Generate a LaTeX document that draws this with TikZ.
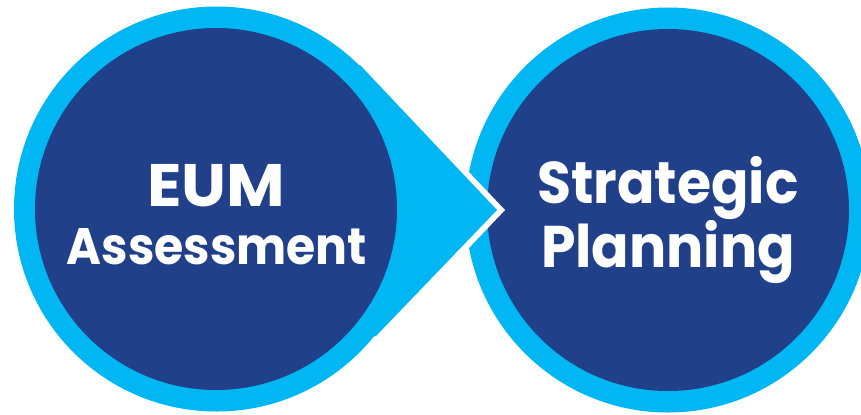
\documentclass[tikz,border=0pt]{standalone}
\usepackage{fontspec}
\setmainfont{Poppins}
\definecolor{ringblue}{HTML}{00B7F3}
\definecolor{coreblue}{HTML}{21408A}
\tikzset{
  ring/.style={circle,fill=ringblue,minimum size=405bp,inner sep=0pt},
  core/.style={circle,fill=coreblue,minimum size=362bp,inner sep=0pt},
  label/.style={text=white,anchor=base,inner sep=0pt,transform shape},
}
\begin{document}
\begin{tikzpicture}[x=1bp,y=-1bp]
\useasboundingbox (0,0) rectangle (861,414);
\fill[white] (0,0) rectangle (861,414);
\node[ring] (ringR) at (668,210) {};
\node[core] (coreR) at (668,210) {};
\coordinate (gapTip) at (505,210);
\coordinate (tip) at (497,210);
\fill[white] (355,52) -- (gapTip) -- (355,368) -- cycle;
\node[ring] (ringL) at (216.5,209) {};
\fill[ringblue] (350,70) -- (360,65) -- (tip) -- (376,336) -- (350,340) -- cycle;
\node[core] (coreL) at (216,209) {};
\node[label,font=\fontsize{64}{64}\selectfont\bfseries,yscale=.94] (t1) at (216,206) {EUM};
\node[label,font=\fontsize{49}{49}\selectfont\bfseries,xscale=.97,yscale=1.05] (t2) at (217,264) {Assessment};
\node[label,font=\fontsize{59}{59}\selectfont\bfseries,xscale=.94] (t3) at (668,203) {Strategic};
\node[label,font=\fontsize{59}{59}\selectfont\bfseries,xscale=.94] (t4) at (668,267) {Planning};
\end{tikzpicture}
\end{document}
